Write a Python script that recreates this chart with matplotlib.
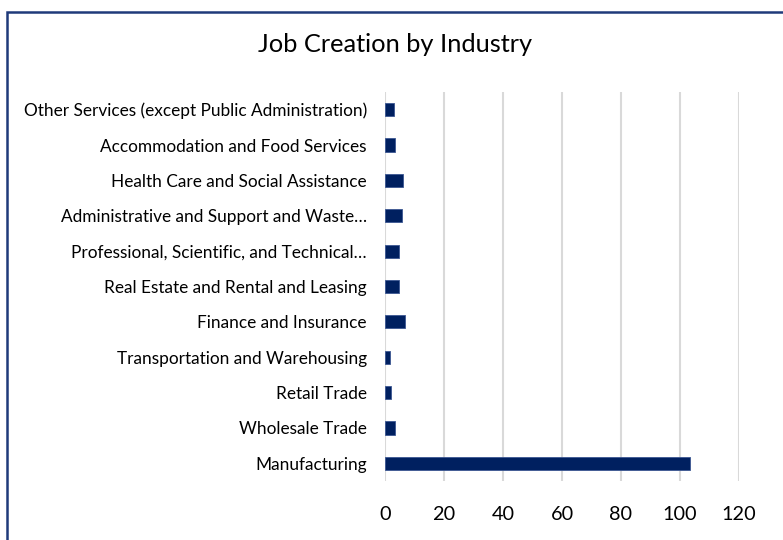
import matplotlib.pyplot as plt
from matplotlib.patches import Rectangle

industries = [
    'Manufacturing',
    'Wholesale Trade',
    'Retail Trade',
    'Transportation and Warehousing',
    'Finance and Insurance',
    'Real Estate and Rental and Leasing',
    'Professional, Scientific, and Technical\u2026',
    'Administrative and Support and Waste\u2026',
    'Health Care and Social Assistance',
    'Accommodation and Food Services',
    'Other Services (except Public Administration)',
]
jobs = [103.5, 3.3, 2.1, 1.8, 6.8, 4.6, 4.6, 5.6, 6.2, 3.3, 3.1]
xticks = [0, 20, 40, 60, 80, 100, 120]


def main():
    plt.rcParams['font.family'] = ['Lato', 'DejaVu Sans']
    fig = plt.figure(figsize=(7.83, 5.4), dpi=100)
    ax = fig.add_axes([385 / 783, 1 - 481 / 540, (739 - 385) / 783, (481 - 92) / 540])

    ax.barh(range(len(industries)), jobs, height=0.375, color='#002060',
            edgecolor='#3b5692', linewidth=0.6, zorder=3)
    ax.set_xlim(0, 120)
    ax.set_ylim(-0.5, len(industries) - 0.5)
    ax.set_xticks(xticks)
    ax.set_xticklabels([str(t) for t in xticks], fontsize=14.3)
    ax.set_yticks(range(len(industries)))
    ax.set_yticklabels(industries, fontsize=12.4)
    ax.tick_params(axis='both', length=0)
    ax.tick_params(axis='x', pad=18)
    ax.tick_params(axis='y', pad=13)
    ax.grid(axis='x', color='#d9d9d9', linewidth=1.5, zorder=0)
    for s in ax.spines.values():
        s.set_visible(False)

    fig.text(395 / 783, 1 - 45 / 540, 'Job Creation by Industry', fontsize=18.3,
             ha='center', va='center')

    # chart frame (runs past right and bottom edge)
    fig.patches.append(Rectangle((7 / 783, -0.1), 1.2, 1.1 - 12 / 540,
                                 transform=fig.transFigure, fill=False,
                                 edgecolor='#1f3a7a', linewidth=1.8))

    fig.savefig('out.png', dpi=100)


if __name__ == '__main__':
    main()
